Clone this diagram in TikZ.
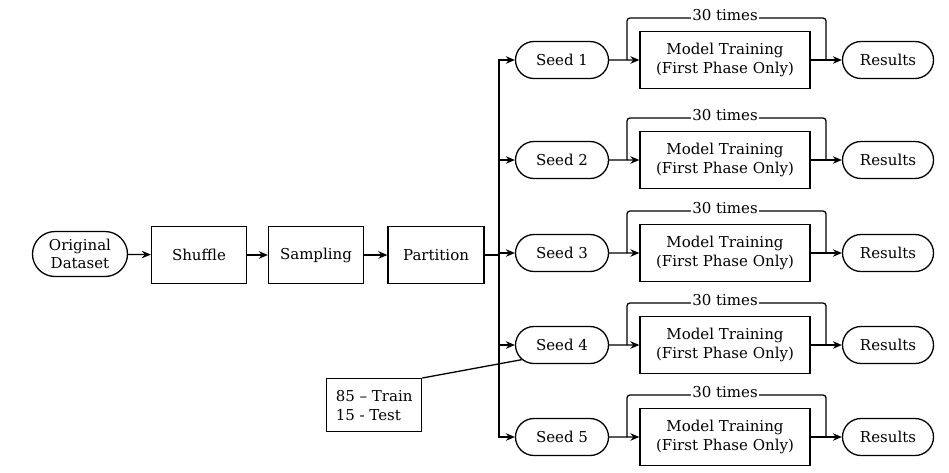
\documentclass[tikz,border=0pt]{standalone}
\usepackage{fontspec}
\setmainfont{DejaVu Serif}
\usetikzlibrary{shapes.misc,arrows.meta}
\begin{document}
\begin{tikzpicture}[x=1pt,y=-1pt,
  font=\fontsize{15}{19}\selectfont,
  every path/.style={line width=1.3pt},
  arr/.style={-{Stealth[length=9pt,width=7.5pt]}},
  pill/.style={draw,rounded rectangle,inner sep=0pt,align=center},
  boxnode/.style={draw,rectangle,inner sep=0pt,align=center,minimum width=95pt,minimum height=57pt},
  modelbox/.style={draw,rectangle,inner sep=0pt,align=center,minimum width=170pt,minimum height=57pt},
  lbl/.style={fill=white,inner sep=1pt,anchor=base}]
\useasboundingbox (0,0) rectangle (949,472);
\node[pill,minimum width=95pt,minimum height=45pt,font=\fontsize{15}{17.5}\selectfont] (orig) at (80,254) {Original\\Dataset};
\node[boxnode] (shuf) at (199,255) {Shuffle};
\node[boxnode] (samp) at (316,255) {Sampling};
\node[boxnode,minimum width=96pt] (part) at (436,255) {Partition};
\draw[arr] (orig) -- (shuf);
\draw[arr] (shuf) -- (samp);
\draw[arr] (samp) -- (part);
\coordinate (bus) at (499,255);
\draw (part.east) -- (bus);
\foreach \i/\y in {1/60,2/160,3/253,4/345,5/437}{
  \node[pill,minimum width=93pt,minimum height=37pt] (seed\i) at (562,\y) {Seed \i};
  \node[modelbox] (model\i) at (725,\y) {Model Training\\(First Phase Only)};
  \node[pill,minimum width=91pt,minimum height=37pt] (res\i) at (888,\y) {Results};
  \draw[arr] (bus) |- (seed\i.west);
  \draw[arr] (seed\i) -- (model\i);
  \draw[arr] (model\i) -- (res\i);
  \coordinate (la\i) at (627,\y);
  \coordinate (lb\i) at (627,\y-42);
  \coordinate (lc\i) at (826,\y-42);
  \coordinate (ld\i) at (826,\y);
  \draw[rounded corners=3pt] (la\i) -- (lb\i) -- (lc\i) -- (ld\i);
  \node[lbl] (times\i) at (725,\y-40) {30 times};
}
\node[draw,rectangle,inner sep=3pt,align=left,minimum width=95pt,minimum height=53pt,anchor=north west] (note) at (326,378) {85 – Train\\15 - Test};
\draw (note.north east) -- (seed4.200);
\end{tikzpicture}
\end{document}
